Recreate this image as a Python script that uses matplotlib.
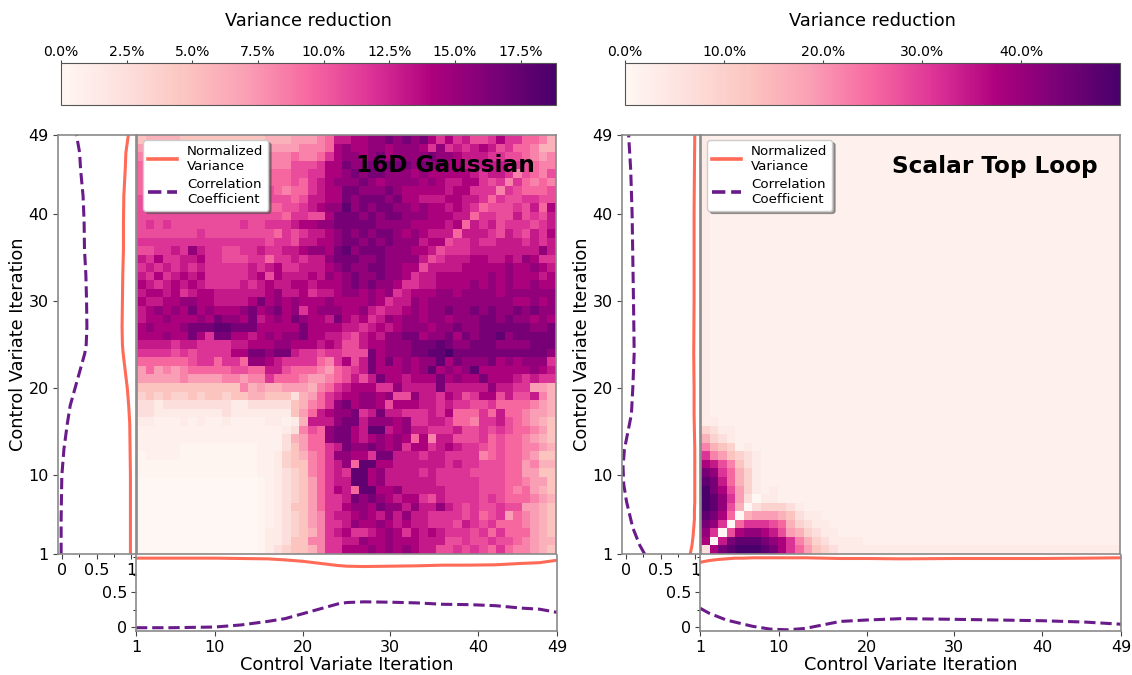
import numpy as np
import matplotlib
matplotlib.use("Agg")
import matplotlib.pyplot as plt
from matplotlib.ticker import FuncFormatter, FixedLocator

W, H = 1132, 675

# level codes: 0..g = share of the colour scale in sixteenths, "." = half a sixteenth,
# "," = a quarter of a sixteenth; rows run from iteration 49 down to 1
GAUSS_ROWS = [
"45555 44444 44444 55566 678bb ccdde dedec acab9 9acaa 8875",
"66666 66666 66666 66667 778cd ccddc dddca dabab cb9a8 8755",
"77777 77777 77777 77787 78acd dcdec dddde ddcbb baa99 8767",
"88888 88888 88888 77799 9acce ddede eeded dccbb bbbaa 9877",
"88888 88888 88888 88899 aaccd edeed ddcdc ccccb abba7 9879",
"89999 99999 99999 88898 abcdd dedcd dddcd cbbcc a9a7a 8787",
"89999 99999 99999 98788 abcce eddde dcccc cbcca aa7a9 8889",
"99999 99999 99999 99989 bbcce deeed eccbb bccbb a8a99 aa99",
"99999 99999 99999 8899a bcddf dedee ddcdc cbcba 8999a 9b8c",
"99999 99999 99999 998aa 99cee edede edddc ccbb8 aa99b 9a9b",
"9a9a9 99999 99a99 aaabc cddee eeedd ddccc cbc8b ab9aa a9ab",
"99999 99a99 99999 98a9a bbcde dedee dcdcb bb8bb ba9ba 9bac",
"aaaaa aaaaa aaaaa 9aa9b bccde edede dddbc c9aab aabbb abab",
"99aab adbaa 99aab aabbc ddcef deeed ddccb 9aaab bbbbb bbdb",
"bacaa bbcaa 999aa 8aaba bbdee edded dddb9 abbbc cbbcb dcaa",
"ababa babaa aaaba bcaab bbcde ddeed dcc9b bbbcc cccdc cdcb",
"bacab cbcaa aaabc 9cbbb cbdcd edded dcabb ccccc cdcdc ccbc",
"cbabc bcbaa aabab cbbcc bcccd ededd caabb ccccd cdcdc cdcc",
"bccbc abccb bbbbb cdbbc abbcd dcdcd abccc ddcdd ddcdd dddd",
"cbbcc ddccb bbbce cdcdc ccdcc ccdca bbdcd ddddd ddddc cdcd",
"bcdcd cecdc ccdec decda cdddc cdbab bcdcd dedde dedde dedd",
"bccdc ccdce ddceb cdced ccbec bcabd cddcd dcddd eeded dcdc",
"cdccc deeef feeec cccce ccccb babcb cdddc ddedd eeeee edde",
"cccdc cecae eccbc dcdde ccbba 9bcbd deecd deced eefde eeee",
"bbbba bbaaa abbcc cddcc cbcb9 9bccd ddeee fedde eeddd deee",
"aaaa9 a9aaa accee deeba a9aa9 99ecd ddeef fgeee eeeee eeed",
"88888 89aa8 aa8dd cbaaa a87ac 9bece cdcdd fcedd decdc ddda",
"68676 78888 89988 bb988 87689 abecc cdcdf cdcdf ccccc cdcb",
"66666 76666 77677 a8887 66789 b9bec cbccc ecdcc ecccb abaa",
"44444 44444 44756 55666 578ab cccaa dbbbb ebbbb bdbba a665",
"34343 34344 34455 44425 68abc cddcd 99dbb acb9a cc9b9 9b75",
"22122 22222 21122 22245 78ade cddc9 cccbb abaa9 9a888 8765",
"22111 11111 21111 11146 8bcdd eabeb baaab ac888 a8b88 7665",
"11... 1.1.. 1.... 11.15 bbbde ebddd cdaab ba887 aab98 7654",
"..... ..... ..... ..127 98dee cbffb cdbba aab99 a9a98 8764",
"..... ..... ..... ..256 88dee cbcdc dc8c7 bb999 a8988 7654",
"..... ,,,,, ,,,,. ..246 88abe ddedc dacca bcbaa 98988 7765",
",.... ,,,,, ,,,,. .1345 78add ccaee bbbab baaaa 78988 7644",
",,,,, ,,,,, ,,,,. .1344 78abd 8ffcc bbbbb babaa 99988 6755",
",,,,, ,,,,, ,,,,. .1234 78aba ffcdb bbbab aaaa9 99988 6644",
"00000 00000 0000, .1234 68abb ffcdb bbbbb aaaaa 99988 7664",
"00000 00000 0000, .1234 68acb 8ffcc dbbbb baaaa 99987 8654",
"00000 00000 0000, .1234 68aab ededc bcca9 baaaa 9a988 8765",
"00000 00000 0000, .1244 68aac ddced dbdbb dba9a 99a99 6654",
"00000 00000 0000, .1234 67abb cdcbd bdbba aaa9a 89a68 7654",
"00000 00000 0000, .1234 67aab dccdc bcbba aa9ba 9a888 7654",
"00000 00000 0000, 11234 57abc aabcd cacbc baaa9 a8a88 8654",
"00000 00000 0000, 11244 77aab bdccd cccbb b99a9 9a998 7655",
"00000 00000 0000, 12344 57aac ccdcd cdcbb 99a9a 98a87 7654",
]

TOPLOOP_ROWS = [
"1.... ..... ..... ..... ..... ..... ..... ..... ..... ....",
"1.... ..... ..... ..... ..... ..... ..... ..... ..... ....",
"1.... ..... ..... ..... ..... ..... ..... ..... ..... ....",
"1.... ..... ..... ..... ..... ..... ..... ..... ..... ....",
"1.... ..... ..... ..... ..... ..... ..... ..... ..... ....",
"1.... ..... ..... ..... ..... ..... ..... ..... ..... ....",
"1.... ..... ..... ..... ..... ..... ..... ..... ..... ....",
"1.... ..... ..... ..... ..... ..... ..... ..... ..... ....",
"1.... ..... ..... ..... ..... ..... ..... ..... ..... ....",
"1.... ..... ..... ..... ..... ..... ..... ..... ..... ....",
"1.... ..... ..... ..... ..... ..... ..... ..... ..... ....",
"1.... ..... ..... ..... ..... ..... ..... ..... ..... ....",
"1.... ..... ..... ..... ..... ..... ..... ..... ..... ....",
"1.... ..... ..... ..... ..... ..... ..... ..... ..... ....",
"1.... ..... ..... ..... ..... ..... ..... ..... ..... ....",
"1.... ..... ..... ..... ..... ..... ..... ..... ..... ....",
"1.... ..... ..... ..... ..... ..... ..... ..... ..... ....",
"1.... ..... ..... ..... ..... ..... ..... ..... ..... ....",
"1.... ..... ..... ..... ..... ..... ..... ..... ..... ....",
"1.... ..... ..... ..... ..... ..... ..... ..... ..... ....",
"1.... ..... ..... ..... ..... ..... ..... ..... ..... ....",
"1.... ..... ..... ..... ..... ..... ..... ..... ..... ....",
"1.... ..... ..... ..... ..... ..... ..... ..... ..... ....",
"1.... ..... ..... ..... ..... ..... ..... ..... ..... ....",
"1.... ..... ..... ..... ..... ..... ..... ..... ..... ....",
"1.... ..... ..... ..... ..... ..... ..... ..... ..... ....",
"1.... ..... ..... ..... ..... ..... ..... ..... ..... ....",
"1.... ..... ..... ..... ..... ..... ..... ..... ..... ....",
"1.... ..... ..... ..... ..... ..... ..... ..... ..... ....",
"1.... ..... ..... ..... ..... ..... ..... ..... ..... ....",
"1.... ..... ..... ..... ..... ..... ..... ..... ..... ....",
"1.... ..... ..... ..... ..... ..... ..... ..... ..... ....",
"1.... ..... ..... ..... ..... ..... ..... ..... ..... ....",
"11... ..... ..... ..... ..... ..... ..... ..... ..... ....",
"3211. ..... ..... ..... ..... ..... ..... ..... ..... ....",
"5321. ..... ..... ..... ..... ..... ..... ..... ..... ....",
"7543. 1.... ..... ..... ..... ..... ..... ..... ..... ....",
"a7643 21... ..... ..... ..... ..... ..... ..... ..... ....",
"cb974 21... ..... ..... ..... ..... ..... ..... ..... ....",
"eda85 31... ..... ..... ..... ..... ..... ..... ..... ....",
"feb85 31... ..... ..... ..... ..... ..... ..... ..... ....",
"gec96 31.1. ..... ..... ..... ..... ..... ..... ..... ....",
"gfda6 2011. ..... ..... ..... ..... ..... ..... ..... ....",
"gfd95 02333 21... ..... ..... ..... ..... ..... ..... ....",
"fec80 56665 4211. ..... ..... ..... ..... ..... ..... ....",
"eda08 aaa98 53211 ..... ..... ..... ..... ..... ..... ....",
"da09c ddcb9 65321 1.... ..... ..... ..... ..... ..... ....",
"c0bef ffedc a7532 1111. ..... ..... ..... ..... ..... ....",
"2cefg ggfec a8643 21111 11111 11111 11111 11111 11111 1111",
]

GAUSS_MAX = 18.85
TOPLOOP_MAX = 49.95
GAUSS_CB_TICKS = [0, 2.5, 5, 7.5, 10, 12.5, 15, 17.5]
TOPLOOP_CB_TICKS = [0, 10, 20, 30, 40]

GAUSS_IT = [1, 5, 10, 13, 16, 18, 20, 22, 24, 25, 27, 30, 33, 36, 39, 42, 45, 47, 49]
GAUSS_NORM = [.985, .985, .985, .98, .975, .96, .94, .91, .88, .87, .865, .87, .875, .885, .885, .89, .91, .92, .955]
GAUSS_CORR = [-.01, -.01, 0, .03, .08, .12, .19, .26, .33, .35, .36, .355, .345, .325, .32, .305, .27, .255, .21]

LOOP_IT = [1, 2, 3, 4, 5, 6, 7, 8, 9, 11, 13, 15, 17, 20, 24, 30, 35, 40, 45, 49]
LOOP_NORM = [.925, .95, .965, .975, .985, .985, .99, .99, .99, .99, .99, .985, .98, .98, .975, .98, .98, .98, .985, .99]
LOOP_CORR = [.27, .20, .15, .10, .07, .04, .01, -.01, -.03, -.04, -.02, .03, .08, .10, .12, .11, .10, .09, .07, .04]

ITER_TICKS = [1, 10, 20, 30, 40, 49]
MARGIN_TICKS = [0, 0.5]
ORANGE = "#ff6b57"
PURPLE = "#6a1b8a"
GREY = "#8a8a8a"
SPECIAL_LEVELS = {".": 0.5, ",": 0.25}


def grid(rows):
    out = []
    for r in rows:
        s = r.replace(" ", "")
        if len(s) != 49:
            raise ValueError(f"row length {len(s)}: {r}")
        out.append([SPECIAL_LEVELS[c] if c in SPECIAL_LEVELS else int(c, 17) for c in s])
    if len(out) != 49:
        raise ValueError(len(out))
    return np.array(out) / 16.0


def box(fig, l, t, r, b):
    return fig.add_axes([l / W, 1 - b / H, (r - l) / W, (b - t) / H])


def style(ax):
    for s in ax.spines.values():
        s.set_color(GREY)
        s.set_linewidth(1.2)


def panel(fig, x0, rows, vmax, cb_ticks, it, norm, corr, title, title_x, cb_fmt):
    mx = x0 + 78
    hx0, hx1 = mx + 1, mx + 420
    y0, y1 = 135, 554

    hm = box(fig, hx0, y0, hx1, y1)
    im = hm.imshow(grid(rows) * vmax, cmap="RdPu", vmin=0, vmax=vmax, extent=[1, 49, 1, 49],
                   aspect="auto", interpolation="nearest")
    hm.set_xticks([])
    hm.set_yticks([])
    style(hm)
    h1, = hm.plot([], [], color=ORANGE, lw=2.6, label="Normalized\nVariance")
    h2, = hm.plot([], [], color=PURPLE, lw=2.6, ls="--", label="Correlation\nCoefficient")
    hm.set_xlim(1, 49)
    hm.set_ylim(1, 49)
    hm.legend(handles=[h1, h2], loc="upper left", bbox_to_anchor=(-0.001, 1.004), fontsize=9.6,
              framealpha=1, shadow=True, labelspacing=0.4, borderpad=0.35, handlelength=2.2,
              handletextpad=0.75, fancybox=True)
    hm.text(title_x, H - 166, title, transform=matplotlib.transforms.IdentityTransform(),
            fontsize=16.7, fontweight="bold", va="center", ha="left")

    lm = box(fig, x0, y0, mx, y1)
    lm.plot(norm, it, color=ORANGE, lw=2.2)
    lm.plot(corr, it, color=PURPLE, lw=2.2, ls=(0, (3.7, 1.6)))
    lm.set_ylim(1, 49)
    lm.set_xlim(-0.055, 1.065)
    lm.set_yticks(ITER_TICKS)
    lm.set_xticks([0, 0.5, 1])
    lm.set_xticklabels(["0", "0.5", "1"])
    lm.xaxis.set_minor_locator(FixedLocator([0.25, 0.75]))
    lm.tick_params(labelsize=11.5, color="#444444", pad=3)
    lm.set_ylabel("Control Variate Iteration", fontsize=12.8)
    lm.yaxis.set_label_coords(-0.40, 0.5)
    style(lm)

    bm = box(fig, mx, y1 + 1, hx1 + 1, 631)
    bm.plot(it, norm, color=ORANGE, lw=2.2)
    bm.plot(it, corr, color=PURPLE, lw=2.2, ls=(0, (3.7, 1.6)))
    bm.set_xlim(1, 49)
    bm.set_ylim(-0.057, 1.03)
    bm.set_xticks(ITER_TICKS)
    bm.set_yticks(MARGIN_TICKS)
    bm.set_yticklabels(["0", "0.5"])
    bm.yaxis.set_minor_locator(FixedLocator([0.25, 0.75, 1]))
    bm.tick_params(labelsize=11.5, color="#444444", pad=3)
    bm.set_xlabel("Control Variate Iteration", fontsize=12.8)
    bm.xaxis.set_label_coords(0.5, -0.33)
    style(bm)
    bm.spines["top"].set_visible(False)

    cax = box(fig, x0 + 3, 63, hx1, 105)
    cb = fig.colorbar(im, cax=cax, orientation="horizontal")
    cb.set_ticks(cb_ticks)
    cax.xaxis.set_ticks_position("top")
    cax.xaxis.set_major_formatter(FuncFormatter(cb_fmt))
    cax.tick_params(labelsize=10.1, pad=0.5, length=2.5, color="#444444")
    cb.outline.set_edgecolor("#555555")
    fig.text((x0 + 3 + hx1) / 2 / W, 1 - 21 / H, "Variance reduction", fontsize=12.8, ha="center", va="center")


def pct(v, _):
    return f"{v:.1f}%"


fig = plt.figure(figsize=(W / 100, H / 100), dpi=100)
panel(fig, 58, GAUSS_ROWS, GAUSS_MAX, GAUSS_CB_TICKS, GAUSS_IT, GAUSS_NORM, GAUSS_CORR, "16D Gaussian", 356, pct)
panel(fig, 622, TOPLOOP_ROWS, TOPLOOP_MAX, TOPLOOP_CB_TICKS, LOOP_IT, LOOP_NORM, LOOP_CORR, "Scalar Top Loop", 892, pct)
fig.savefig("out.png", dpi=100)
